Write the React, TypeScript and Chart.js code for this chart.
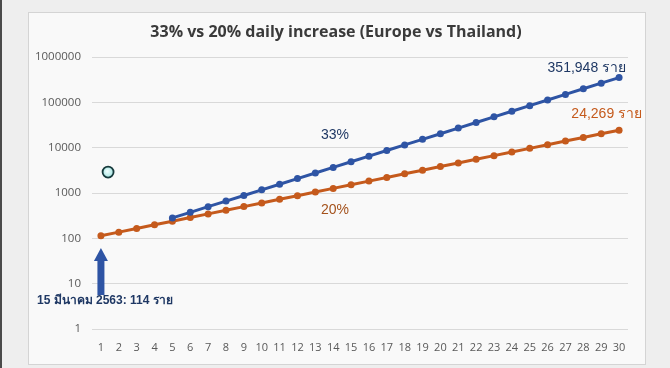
import React, { useEffect, useRef } from "react";
import { Chart, registerables } from "chart.js";

Chart.register(...registerables);

const days = Array.from({ length: 30 }, (_, i) => String(i + 1));

// Europe (33%/day) – line starts on day 5
const europe = [
  null, null, null, null,
  282, 375, 499, 663, 882, 1174, 1561, 2076, 2761, 3672, 4884, 6495, 8639, 11490,
  15281, 20324, 27031, 35952, 47816, 63595, 84581, 112492, 149615, 198988, 264654, 351948,
];

// Thailand (20%/day)
const thailand = [
  114, 137, 165, 199, 239, 287, 346, 416, 501, 602, 725, 872, 1049, 1263, 1519,
  1828, 2199, 2646, 3184, 3831, 4609, 5545, 6672, 8028, 9659, 11621, 13983, 16824, 20242, 24269,
];

const yTicks = [1, 10, 100, 1000, 10000, 100000, 1000000];

const titleText = "33% vs 20% daily increase (Europe vs Thailand)";
const europeEndLabel = "351,948 ราย";
const thaiEndLabel = "24,269 ราย";
const europeRateLabel = "33%";
const thaiRateLabel = "20%";
const startLabel = "15 มีนาคม 2563: 114 ราย";

const BLUE = "#2e54a4";
const ORANGE = "#c55a1c";
const NAVY = "#1f3864";
const FONT = "'Liberation Sans', 'Noto Sans', sans-serif";
const TICKFONT = "'Open Sans', 'Liberation Sans', sans-serif";

const decor = {
  id: "decor",
  beforeDraw(chart: any) {
    const ctx = chart.ctx;
    ctx.save();
    ctx.fillStyle = "#eeeeee";
    ctx.fillRect(0, 0, chart.width, chart.height);
    ctx.fillStyle = "#4a4a4a";
    ctx.fillRect(0, 0, 2, chart.height);
    ctx.fillStyle = "#f9f9f9";
    ctx.fillRect(28, 12, 617, 352);
    ctx.strokeStyle = "#d4d4d4";
    ctx.lineWidth = 1;
    ctx.strokeRect(28.5, 12.5, 617, 352);
    ctx.restore();
  },
  afterDraw(chart: any) {
    const ctx = chart.ctx;
    const xs = chart.scales.x;
    const ys = chart.scales.y;
    ctx.save();
    // title
    ctx.fillStyle = "#3a3a3a";
    ctx.font = `700 16px 'Open Sans', sans-serif`;
    ctx.textAlign = "center";
    ctx.textBaseline = "middle";
    ctx.fillText(titleText, 336, 32);

    // end labels
    const lastX = xs.getPixelForValue(29);
    ctx.font = `14px ${FONT}`;
    ctx.textAlign = "right";
    ctx.fillStyle = NAVY;
    ctx.fillText(europeEndLabel, lastX + 7, ys.getPixelForValue(europe[29] as number) - 9);
    ctx.fillStyle = ORANGE;
    ctx.fillText(thaiEndLabel, lastX + 23, ys.getPixelForValue(thailand[29]) - 16);

    // rate labels
    ctx.textAlign = "center";
    ctx.fillStyle = NAVY;
    ctx.fillText(europeRateLabel, xs.getPixelForValue(13.1), ys.getPixelForValue(18750));
    ctx.fillStyle = "#a4521c";
    ctx.fillText(thaiRateLabel, xs.getPixelForValue(13.1), ys.getPixelForValue(418));

    // arrow
    const ax = xs.getPixelForValue(0);
    const top = ys.getPixelForValue(61);
    const bottom = ys.getPixelForValue(5.6);
    ctx.fillStyle = BLUE;
    ctx.beginPath();
    ctx.moveTo(ax, top);
    ctx.lineTo(ax + 7, top + 13);
    ctx.lineTo(ax + 3.5, top + 13);
    ctx.lineTo(ax + 3.5, bottom);
    ctx.lineTo(ax - 3.5, bottom);
    ctx.lineTo(ax - 3.5, top + 13);
    ctx.lineTo(ax - 7, top + 13);
    ctx.closePath();
    ctx.fill();

    // start label
    ctx.font = `bold 12px ${FONT}`;
    ctx.fillStyle = NAVY;
    ctx.textAlign = "left";
    ctx.fillText(startLabel, 37, ys.getPixelForValue(4.3));

    // circle marker
    const cx = xs.getPixelForValue(0.4);
    const cy = ys.getPixelForValue(2900);
    const g = ctx.createRadialGradient(cx - 1, cy - 1, 0, cx, cy, 6);
    g.addColorStop(0, "#f4ffff");
    g.addColorStop(1, "#9fe3e0");
    ctx.fillStyle = g;
    ctx.strokeStyle = "#173a3c";
    ctx.lineWidth = 1.8;
    ctx.beginPath();
    ctx.arc(cx, cy, 5.5, 0, Math.PI * 2);
    ctx.fill();
    ctx.stroke();
    ctx.restore();
  },
};

export default function App() {
  const ref = useRef<HTMLCanvasElement>(null);
  useEffect(() => {
    document.body.style.margin = "0";
    const chart = new Chart(ref.current as HTMLCanvasElement, {
      type: "line",
      data: {
        labels: days,
        datasets: [
          {
            label: "Europe",
            data: europe,
            borderColor: BLUE,
            backgroundColor: BLUE,
            borderWidth: 3,
            pointRadius: 3.5,
            pointBorderWidth: 0,
            spanGaps: false,
          },
          {
            label: "Thailand",
            data: thailand,
            borderColor: ORANGE,
            backgroundColor: ORANGE,
            borderWidth: 3,
            pointRadius: 3.5,
            pointBorderWidth: 0,
          },
        ],
      },
      options: {
        animation: false,
        responsive: false,
        maintainAspectRatio: false,
        layout: { padding: { left: 0, right: 42, top: 57, bottom: 10 } },
        plugins: { legend: { display: false }, tooltip: { enabled: false }, title: { display: false } },
        scales: {
          x: {
            type: "category",
            offset: true,
            grid: { display: false, drawTicks: false },
            border: { display: false },
            ticks: {
              color: "#595959",
              font: { size: 11, family: TICKFONT },
              padding: 12,
              maxRotation: 0,
              autoSkip: false,
            },
            afterFit: (axis: any) => {
              axis.height = 29;
            },
          },
          y: {
            type: "logarithmic",
            min: 1,
            max: 1000000,
            grid: { color: "#d9d9d9", lineWidth: 1, drawTicks: false },
            border: { display: false },
            afterBuildTicks: (axis: any) => {
              axis.ticks = yTicks.map((v) => ({ value: v }));
            },
            ticks: {
              color: "#595959",
              font: { size: 11.5, family: TICKFONT },
              padding: 11,
              callback: (v: any) => String(v),
            },
            afterFit: (axis: any) => {
              axis.width = 92;
            },
          },
        },
      },
      plugins: [decor],
    });
    return () => chart.destroy();
  }, []);
  return (
    <div style={{ position: "fixed", left: 0, top: 0, width: 670, height: 368 }}>
      <canvas ref={ref} width={670} height={368} style={{ width: 670, height: 368, display: "block" }} />
    </div>
  );
}
